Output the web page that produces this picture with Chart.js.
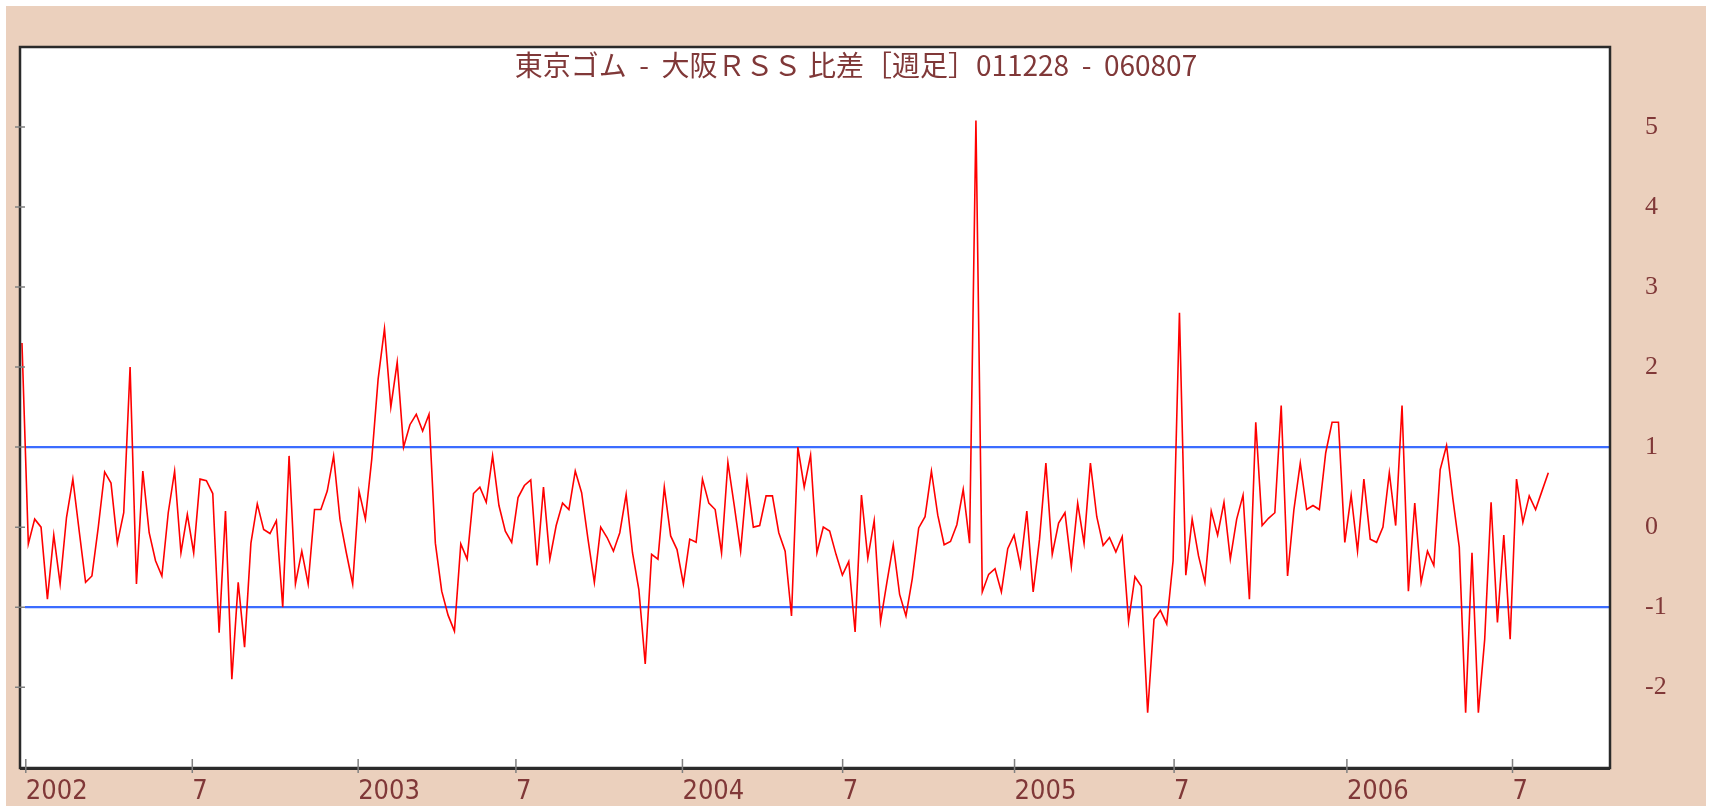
<!DOCTYPE html>
<html>
<head>
<meta charset="utf-8">
<script src="https://cdn.jsdelivr.net/npm/chart.js@4.4.1/dist/chart.umd.min.js"></script>
<style>
  html, body { margin: 0; padding: 0; background: #fff; }
  #wrap { position: absolute; left: 6px; top: 6px; width: 1700px; height: 800px; background: #ebd0bd; }
</style>
</head>
<body>
<div id="wrap"><canvas id="spreadChart" width="1700" height="800"></canvas></div>
<script>
// 東京ゴム - 大阪RSS 比差, weekly, 2001-12-28 .. 2006-08-07
const chartTitle = '東京ゴム  -  大阪ＲＳＳ 比差［週足］011228  -  060807';

const spread = [
  2.3, -0.21, 0.1, 0.0, -0.9, -0.1, -0.71, 0.12, 0.6, -0.05,
  -0.69, -0.61, 0.0, 0.69, 0.55, -0.2, 0.18, 2.0, -0.71, 0.7,
  -0.07, -0.42, -0.61, 0.18, 0.7, -0.32, 0.16, -0.32, 0.6, 0.58,
  0.42, -1.32, 0.2, -1.9, -0.69, -1.5, -0.2, 0.29, -0.03, -0.08,
  0.08, -1.0, 0.89, -0.71, -0.3, -0.71, 0.22, 0.22, 0.45, 0.89,
  0.1, -0.32, -0.71, 0.45, 0.1, 0.85, 1.85, 2.48, 1.5, 2.06,
  1.0, 1.28, 1.41, 1.2, 1.41, -0.2, -0.8, -1.1, -1.3, -0.21,
  -0.4, 0.42, 0.5, 0.31, 0.89, 0.27, -0.05, -0.19, 0.37, 0.52,
  0.59, -0.48, 0.5, -0.4, 0.02, 0.3, 0.22, 0.7, 0.43, -0.15,
  -0.69, 0.0, -0.13, -0.3, -0.07, 0.41, -0.32, -0.78, -1.71, -0.34,
  -0.4, 0.5, -0.11, -0.28, -0.71, -0.15, -0.19, 0.6, 0.3, 0.22,
  -0.32, 0.81, 0.27, -0.3, 0.6, 0.0, 0.02, 0.39, 0.39, -0.07,
  -0.3, -1.11, 1.0, 0.5, 0.9, -0.32, 0.0, -0.05, -0.34, -0.6,
  -0.43, -1.31, 0.4, -0.39, 0.08, -1.18, -0.69, -0.22, -0.84, -1.11,
  -0.64, -0.01, 0.13, 0.7, 0.15, -0.22, -0.18, 0.03, 0.47, -0.2,
  5.08, -0.81, -0.59, -0.52, -0.81, -0.27, -0.1, -0.49, 0.2, -0.81,
  -0.15, 0.8, -0.34, 0.05, 0.18, -0.49, 0.3, -0.2, 0.8, 0.13,
  -0.23, -0.13, -0.31, -0.12, -1.18, -0.62, -0.74, -2.32, -1.15, -1.04,
  -1.21, -0.42, 2.68, -0.6, 0.1, -0.36, -0.69, 0.2, -0.1, 0.31,
  -0.4, 0.1, 0.4, -0.9, 1.31, 0.02, 0.11, 0.18, 1.52, -0.61,
  0.22, 0.8, 0.22, 0.27, 0.22, 0.93, 1.31, 1.31, -0.19, 0.4,
  -0.3, 0.6, -0.15, -0.19, 0.0, 0.68, 0.02, 1.52, -0.8, 0.3,
  -0.69, -0.3, -0.48, 0.72, 1.02, 0.35, -0.25, -2.32, -0.32, -2.32,
  -1.4, 0.31, -1.19, -0.1, -1.4, 0.6, 0.06, 0.39, 0.22, 0.45,
  0.68
];

// x axis: week index, labels at month starts
const tickWeeks = [0.6, 26.78, 52.86, 77.67, 103.85, 129.04, 156.07, 181.16, 208.33, 234.37];
const tickLabels = ['2002', '7', '2003', '7', '2004', '7', '2005', '7', '2006', '7'];
const yTicks = [-2, -1, 0, 1, 2, 3, 4, 5];

// blue guide lines
const bandLevels = [1, -1];
const bandWeeks = [0.47, 249.7];

const maroon = '#803838';

const framePlugin = {
  id: 'frame',
  beforeDraw(chart) {
    const a = chart.chartArea;
    const ctx = chart.ctx;
    ctx.save();
    ctx.fillStyle = '#ffffff';
    ctx.fillRect(a.left, a.top, a.right - a.left, a.bottom - a.top);
    ctx.restore();
  },
  afterDraw(chart) {
    const a = chart.chartArea;
    const ctx = chart.ctx;
    const x = chart.scales.x;
    const y = chart.scales.y;
    ctx.save();
    // box
    ctx.strokeStyle = '#2a2a2a';
    ctx.lineWidth = 2.5;
    ctx.strokeRect(a.left, a.top, a.right - a.left, a.bottom - a.top);
    ctx.lineWidth = 3;
    ctx.beginPath();
    ctx.moveTo(a.left, a.bottom + 0.5);
    ctx.lineTo(a.right, a.bottom + 0.5);
    ctx.stroke();
    // small tick marks across the left and bottom edges
    ctx.strokeStyle = '#808080';
    ctx.lineWidth = 1.5;
    ctx.beginPath();
    tickWeeks.forEach(w => {
      const px = x.getPixelForValue(w);
      ctx.moveTo(px, a.bottom - 9);
      ctx.lineTo(px, a.bottom + 5);
    });
    yTicks.forEach(v => {
      const py = y.getPixelForValue(v);
      ctx.moveTo(a.left - 5, py);
      ctx.lineTo(a.left + 5, py);
    });
    ctx.stroke();
    // title sits inside the box
    ctx.fillStyle = maroon;
    ctx.font = "28px 'Liberation Sans Narrow', 'Noto Sans CJK JP', sans-serif";
    ctx.textAlign = 'center';
    ctx.textBaseline = 'middle';
    ctx.fillText(chartTitle, chart.width / 2, 59);
    ctx.restore();
  }
};

const ctx = document.getElementById('spreadChart').getContext('2d');
new Chart(ctx, {
  type: 'line',
  data: {
    datasets: [
      {
        label: '比差',
        data: spread.map((v, i) => ({ x: i, y: v })),
        borderColor: '#ff0000',
        borderWidth: 1.6,
        pointRadius: 0,
        tension: 0,
        order: 0
      },
      ...bandLevels.map(level => ({
        label: 'band ' + level,
        data: bandWeeks.map(w => ({ x: w, y: level })),
        borderColor: '#3b6cff',
        borderWidth: 2.2,
        pointRadius: 0,
        order: 1
      }))
    ]
  },
  options: {
    responsive: false,
    animation: false,
    layout: { padding: { top: 41, left: 14, right: 0, bottom: 0 } },
    plugins: {
      legend: { display: false },
      title: { display: false },
      tooltip: { enabled: false }
    },
    scales: {
      x: {
        type: 'linear',
        min: -0.31,
        max: 249.7,
        grid: { display: false, drawTicks: false },
        border: { display: false },
        afterBuildTicks: axis => { axis.ticks = tickWeeks.map(w => ({ value: w })); },
        afterFit: axis => {
          axis.height = 38;
          axis.paddingLeft = 0;
          axis.paddingRight = 0;
        },
        ticks: {
          autoSkip: false,
          maxRotation: 0,
          align: 'start',
          padding: 8,
          color: maroon,
          font: { family: "'Liberation Sans Narrow', 'DejaVu Sans Condensed', sans-serif", size: 27 },
          callback: (value, index) => tickLabels[index]
        }
      },
      y: {
        type: 'linear',
        position: 'right',
        min: -3.01,
        max: 6.0,
        grid: { display: false, drawTicks: false },
        border: { display: false },
        afterBuildTicks: axis => { axis.ticks = yTicks.map(v => ({ value: v })); },
        afterFit: axis => {
          axis.width = 96;
          axis.paddingTop = 0;
          axis.paddingBottom = 0;
        },
        ticks: {
          padding: 35,
          color: maroon,
          font: { family: "'Liberation Serif', serif", size: 26 },
          callback: value => String(value)
        }
      }
    }
  },
  plugins: [framePlugin]
});
</script>
</body>
</html>
